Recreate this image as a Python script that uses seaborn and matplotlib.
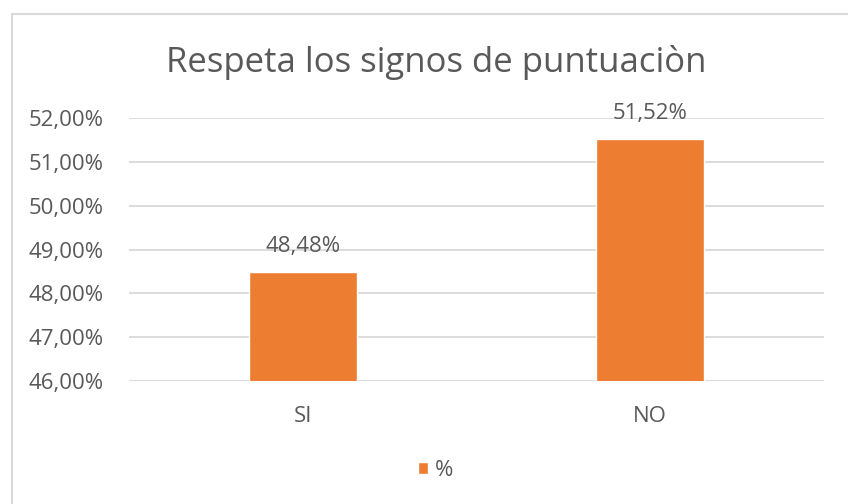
import numpy as np
import pandas as pd
import matplotlib
matplotlib.use("Agg")
import matplotlib.pyplot as plt
import seaborn as sns
from matplotlib.patches import Patch, Rectangle
from matplotlib.ticker import FuncFormatter, MultipleLocator


# datos del gráfico
categorias = ["SI", "NO"]
valores = [0.4848, 0.5152]
serie = "%"
titulo = "Respeta los signos de puntuaciòn"

NARANJA = "#ED7D31"
GRIS_TEXTO = "#595959"
GRIS_LINEA = "#D9D9D9"


def pct_coma(v, decimales=2):
    # formato español: coma decimal
    return f"{v * 100:.{decimales}f}%".replace(".", ",")


sns.set_theme(style="white")
plt.rcParams["font.family"] = ["Open Sans", "DejaVu Sans"]

W, H = 848, 504
fig = plt.figure(figsize=(W / 100, H / 100), dpi=100)

# borde del área del gráfico
fig.patches.append(Rectangle((12 / W, -0.05), 2, (H - 14) / H + 0.05,
                             transform=fig.transFigure, fill=False,
                             edgecolor=GRIS_LINEA, linewidth=1.5))

ax = fig.add_axes([129 / W, 1 - 381 / H, (824 - 129) / W, (381 - 118) / H])

df = pd.DataFrame({"categoria": categorias, "valor": valores})
sns.barplot(data=df, x="categoria", y="valor", color=NARANJA, width=0.31,
            saturation=1, ax=ax, zorder=3)

ax.set_ylim(0.46, 0.52)
ax.yaxis.set_major_locator(MultipleLocator(0.01))
ax.yaxis.set_major_formatter(FuncFormatter(lambda v, p: pct_coma(v)))
ax.grid(axis="y", color=GRIS_LINEA, linewidth=1.3, zorder=0)
ax.set_axisbelow(True)
for s in ax.spines.values():
    s.set_visible(False)
ax.set_xlabel("")
ax.set_ylabel("")
ax.tick_params(axis="y", length=0, pad=18, labelsize=16, labelcolor=GRIS_TEXTO)
ax.tick_params(axis="x", length=0, pad=18, labelsize=16, labelcolor=GRIS_TEXTO)

ax.bar_label(ax.containers[0], labels=[pct_coma(v) for v in valores],
             padding=11, fontsize=16, color=GRIS_TEXTO)

fig.text(436 / W, 1 - 62 / H, titulo, ha="center", va="center",
         fontsize=25, color=GRIS_TEXTO)

fig.legend(handles=[Patch(facecolor=NARANJA, label=serie)],
           loc="center", bbox_to_anchor=(436 / W, 1 - 470 / H),
           frameon=False, fontsize=16, labelcolor=GRIS_TEXTO,
           handlelength=0.45, handleheight=0.45, handletextpad=0.3)

fig.savefig("out.png", dpi=100)
